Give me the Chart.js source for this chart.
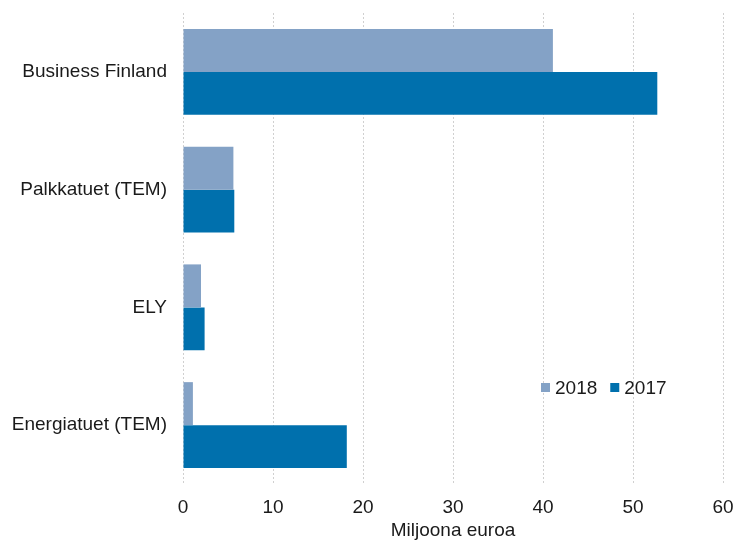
<!DOCTYPE html>
<html>
<head>
<meta charset="utf-8">
<script src="https://cdn.jsdelivr.net/npm/chart.js@4/dist/chart.umd.min.js"></script>
<style>
  html, body { margin: 0; padding: 0; background: #ffffff; }
  #wrap { width: 736px; height: 542px; position: relative; }
</style>
</head>
<body>
<div id="wrap"><canvas id="c" width="736" height="542"></canvas></div>
<script>
const categories = ["Business Finland", "Palkkatuet (TEM)", "ELY", "Energiatuet (TEM)"];
const seriesNames = ["2018", "2017"];
const values2018 = [41.1, 5.6, 2.0, 1.1];
const values2017 = [52.7, 5.7, 2.4, 18.2];
const xTicks = [0, 10, 20, 30, 40, 50, 60];
const xTitle = "Miljoona euroa";

const FONT = "'Liberation Sans', Arial, sans-serif";
const colors = ["#84a2c6", "#0070ad"];

const legendPlugin = {
  id: 'innerLegend',
  afterDraw(chart) {
    const ctx = chart.ctx;
    ctx.save();
    ctx.font = "19px " + FONT;
    ctx.textBaseline = "middle";
    ctx.textAlign = "left";
    let x = 541;
    const y = 387.5;
    chart.data.datasets.forEach((ds) => {
      ctx.fillStyle = ds.backgroundColor;
      ctx.fillRect(x, y - 4.5, 9, 9);
      ctx.fillStyle = "#1a1a1a";
      ctx.fillText(ds.label, x + 14, y + 1);
      x += 14 + ctx.measureText(ds.label).width + 13;
    });
    ctx.restore();
  }
};

new Chart(document.getElementById('c'), {
  type: 'bar',
  data: {
    labels: categories,
    datasets: [
      { label: seriesNames[0], data: values2018, backgroundColor: colors[0], borderWidth: 0 },
      { label: seriesNames[1], data: values2017, backgroundColor: colors[1], borderWidth: 0 }
    ]
  },
  options: {
    indexAxis: 'y',
    responsive: false,
    animation: false,
    layout: { padding: { left: 0, right: 13, top: 13, bottom: 0 } },
    datasets: { bar: { barPercentage: 1.0, categoryPercentage: 0.73 } },
    plugins: {
      legend: { display: false },
      tooltip: { enabled: false }
    },
    scales: {
      x: {
        min: 0, max: 60,
        afterBuildTicks(scale) { scale.ticks = xTicks.map(v => ({ value: v })); },
        afterFit(scale) { scale.height = 58; scale.paddingLeft = 0; scale.paddingRight = 0; },
        grid: { color: "#d0d0d0", lineWidth: 1, drawTicks: false },
        border: { display: false, dash: [2, 2] },
        ticks: { padding: 12, color: "#1a1a1a", font: { family: FONT, size: 19 }, maxRotation: 0 },
        title: { display: true, text: xTitle, color: "#1a1a1a", font: { family: FONT, size: 19 }, padding: { top: 0, bottom: 0 } }
      },
      y: {
        afterFit(scale) { scale.width = 183; scale.paddingTop = 0; scale.paddingBottom = 0; },
        grid: { display: false, drawTicks: false },
        border: { display: false },
        ticks: { padding: 16, color: "#1a1a1a", font: { family: FONT, size: 19 } }
      }
    }
  },
  plugins: [legendPlugin]
});
</script>
</body>
</html>
